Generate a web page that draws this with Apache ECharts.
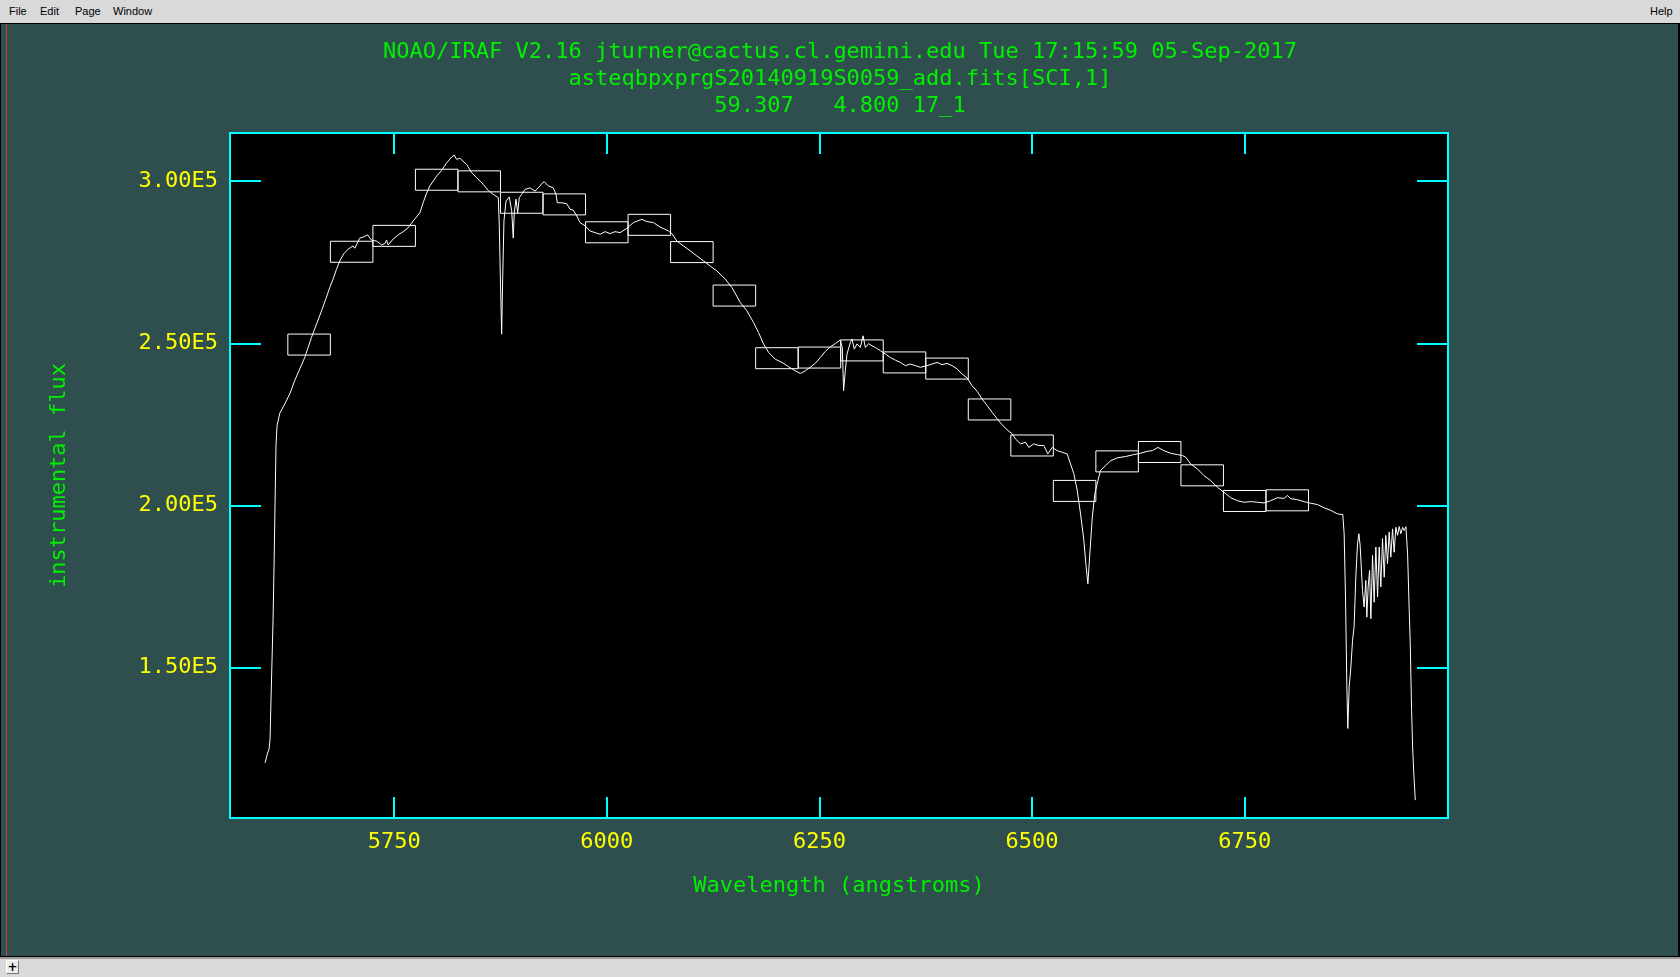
<!DOCTYPE html>
<html>
<head>
<meta charset="utf-8">
<title>IRAF standard</title>
<script src="https://cdn.jsdelivr.net/npm/echarts@6.0.0/dist/echarts.min.js"></script>
<style>
  html, body { margin: 0; padding: 0; background: #d9d9d9; overflow: hidden; }
  #main { position: absolute; left: 0; top: 0; width: 1680px; height: 977px; }
  .bar { position: absolute; left: 0; width: 1680px; background: #d9d9d9; }
  .menu { position: absolute; top: 5px; font: 11px "Liberation Sans", "DejaVu Sans", sans-serif; color: #000; }
  .line { position: absolute; }
  #plus { position: absolute; left: 6px; top: 960px; width: 11px; height: 12px; background: #ececec;
    border-right: 1px solid #777; border-bottom: 1px solid #777; border-left: 1px solid #fff; border-top: 1px solid #fff;
    font: bold 12px "DejaVu Sans", sans-serif; line-height: 12px; text-align: center; color: #000; }
</style>
</head>
<body>
<div id="main"></div>
<!-- window chrome -->
<div class="bar" style="top:0;height:23px;border-bottom:1px solid #000;"></div>
<span class="menu" style="left:9px">File</span>
<span class="menu" style="left:40px">Edit</span>
<span class="menu" style="left:75px">Page</span>
<span class="menu" style="left:113px">Window</span>
<span class="menu" style="left:1650px">Help</span>
<div class="line" style="left:0;top:24px;width:1px;height:932px;background:#000"></div>
<div class="line" style="left:6px;top:24px;width:1px;height:932px;background:#c83c3c"></div>
<div class="line" style="left:1678px;top:24px;width:2px;height:932px;background:#000"></div>
<div class="bar" style="top:956px;height:1px;background:#000"></div>
<div class="bar" style="top:957px;height:2px;background:#9a9a9a"></div>
<div class="bar" style="top:959px;height:18px"></div>
<div id="plus">+</div>

<script>
// spectrum (angstroms, instrumental flux)
var wave = [5598.2,5599.4,5600.5,5601.7,5602.9,5604.1,5605.2,5606.4,5607.6,5608.8,5610.0,5611.1,5612.3,5615.5,5621.4,5627.3,5633.1,5639.0,5644.9,5648.8,
  5652.8,5658.7,5664.6,5669.6,5674.3,5678.2,5682.2,5686.1,5690.8,5695.9,5701.7,5703.7,5709.6,5714.3,5718.7,5723.4,5729.3,5735.2,5739.1,5741.1,
  5742.9,5748.8,5754.7,5760.6,5766.5,5772.4,5780.2,5784.1,5787.3,5792.0,5799.9,5805.8,5811.7,5817.6,5820.6,5823.4,5827.3,5835.2,5841.1,5847.0,
  5854.7,5860.6,5866.5,5872.4,5873.6,5875.2,5876.4,5877.6,5879.1,5881.5,5885.3,5888.2,5890.0,5891.2,5893.2,5895.2,5897.1,5899.9,5903.8,5909.7,
  5915.6,5920.6,5923.5,5926.5,5931.2,5937.1,5940.3,5941.8,5947.0,5952.9,5956.8,5960.7,5964.7,5968.5,5974.4,5980.3,5986.2,5992.1,5998.0,6003.9,
  6009.7,6015.6,6023.5,6031.3,6041.2,6047.0,6054.8,6062.7,6068.6,6072.5,6076.5,6082.4,6090.1,6098.0,6105.9,6113.7,6121.5,6129.4,6139.2,6147.4,
  6156.8,6164.7,6172.5,6178.4,6184.3,6190.2,6198.0,6205.9,6213.7,6221.6,6227.5,6233.4,6239.2,6245.1,6251.0,6256.9,6262.8,6268.7,6274.5,6276.9,
  6278.4,6280.4,6282.4,6286.3,6288.3,6291.0,6294.2,6298.1,6301.3,6304.0,6307.8,6311.8,6315.7,6321.6,6327.5,6333.4,6339.3,6345.2,6351.0,6356.9,
  6362.8,6368.7,6376.6,6382.5,6388.3,6394.2,6400.1,6406.0,6411.9,6417.8,6423.7,6429.5,6435.4,6441.3,6447.2,6453.1,6459.0,6464.8,6470.7,6476.6,
  6480.5,6486.4,6492.3,6496.2,6502.0,6507.9,6513.8,6518.5,6523.7,6529.6,6535.5,6541.3,6545.2,6549.1,6553.1,6557.0,6560.9,6563.2,6565.6,6567.9,
  6570.8,6573.8,6577.4,6580.5,6586.4,6592.3,6600.2,6610.0,6619.7,6627.6,6635.5,6641.4,6648.0,6655.0,6662.9,6670.8,6676.7,6680.6,6686.5,6694.3,
  6702.1,6710.0,6717.9,6725.6,6733.5,6741.4,6749.2,6757.1,6765.0,6772.7,6780.6,6788.5,6796.3,6800.3,6804.1,6812.0,6819.8,6827.7,6835.6,6843.3,
  6851.2,6859.1,6865.3,6866.9,6868.5,6870.1,6871.2,6872.8,6874.8,6876.8,6878.6,6880.6,6882.6,6884.2,6885.7,6888.5,6890.4,6892.4,6893.6,6895.1,
  6896.8,6898.3,6900.3,6902.2,6904.2,6906.2,6908.1,6910.0,6912.0,6914.0,6915.9,6917.9,6919.8,6921.8,6923.8,6925.7,6927.7,6929.7,6931.6,6933.6,
  6935.6,6937.5,6939.5,6941.5,6943.4,6944.6,6946.2,6947.4,6948.6,6950.5]
var flux = [120700,121800,123100,124100,124900,128000,140000,152300,164600,181500,201500,218500,224600,228400,231300,234400,238500,242100,245600,248700,
  251800,255900,260000,263600,267200,269800,272800,275400,277600,279000,280000,279300,282400,282800,283400,281800,281500,280300,280700,281800,
  280300,282100,283400,284400,285600,287700,290200,293300,295700,298500,301500,303300,305600,307400,308000,306700,307000,305100,302600,301000,
  299000,297100,295900,294900,286200,266200,252800,270200,287700,293800,295100,290800,282400,290200,294400,290200,294900,295900,297400,297900,
  296900,298200,299200,299800,298500,297900,295900,293300,293300,293000,291300,291000,289200,287200,286200,284600,284100,283600,284400,283800,
  284400,284100,285400,287200,288200,287500,287200,285800,285100,284600,283800,281500,280000,278500,276900,275400,273800,272300,269800,267100,
  262600,260000,256400,253300,249800,247200,245100,244100,242800,241500,240700,241500,242600,243800,245600,247500,248900,249900,251000,248700,
  235400,241500,246700,250200,251300,248200,249800,248700,252300,248700,249900,249200,248700,247700,246700,245600,244800,244100,243100,243600,
  243100,242600,243100,243600,244100,243400,243800,243100,242100,240500,239300,236900,235200,232800,230800,228700,226700,224900,223300,222100,
  220500,219000,219500,217900,219000,218500,218500,215900,217900,216900,216400,215900,212800,209800,204600,197400,189200,182100,175900,185100,
  196400,203600,207700,210800,212300,213800,214700,215100,215700,216100,216700,216900,217900,216900,216100,215700,215400,214900,212800,211300,
  209200,207700,205600,204100,202400,201500,201000,201200,201000,200800,201500,202400,202200,203100,202100,201800,201200,200700,200300,199300,
  198500,197400,197200,191300,171800,144100,131300,144100,150200,158500,162600,177900,188200,191300,187700,173800,168700,176900,165600,174900,
  180000,165100,184600,170200,187200,171800,187200,174900,189800,177900,190800,182100,191800,184100,192800,185600,193300,190800,193500,191300,
  193300,192300,193500,185100,167700,157400,136900,125600,118500,109200]

// calibration bandpasses (centre, mean flux), 50 A wide
var bandWave = [5650,5700,5750,5800,5850,5900,5950,6000,6050,6100,6150,6200,6250,6300,6350,6400,6450,6500,6550,6600,6650,6700,6750,6800]
var bandFlux = [249600,278200,283100,300400,299900,293300,292800,284200,286500,278100,264700,245400,245600,247800,244100,242200,229600,218500,204500,213600,216500,209300,201400,201600]
var bandWidth = 50

// axis range and ticks
var xMin = 5557, xMax = 6989
var yMin = 103700, yMax = 314800
var xTicks = [5750, 6000, 6250, 6500, 6750]
var yTicks = [150000, 200000, 250000, 300000]

var titleLines = [
  'NOAO/IRAF V2.16 jturner@cactus.cl.gemini.edu Tue 17:15:59 05-Sep-2017',
  'asteqbpxprgS20140919S0059_add.fits[SCI,1]',
  '59.307   4.800 17_1'
]

var cyan = '#00ffff'
var green = '#00f000'
var yellow = '#ffff00'
var mono = '"DejaVu Sans Mono", "Liberation Mono", monospace'

function yLabel(v) {
  // IRAF style 3.00E5
  var e = Math.floor(Math.log10(v))
  return (v / Math.pow(10, e)).toFixed(2) + 'E' + e
}

var myChart = echarts.init(document.getElementById('main'))
var option = {
  backgroundColor: '#2f4f4f',
  animation: false,
  title: {
    text: titleLines.join('\n'),
    left: 'center',
    top: 34,
    textStyle: { color: green, fontFamily: mono, fontSize: 22, fontWeight: 'normal', lineHeight: 27 },
  },
  grid: {
    left: 230, right: 232, top: 133, bottom: 159,
    show: true,
    backgroundColor: '#000',
    borderColor: cyan,
    borderWidth: 2,
  },
  xAxis: [
    {
      type: 'value', min: xMin, max: xMax, position: 'bottom',
      name: 'Wavelength (angstroms)', nameLocation: 'middle', nameGap: 57,
      nameTextStyle: { color: green, fontFamily: mono, fontSize: 22 },
      axisLine: { show: false },
      axisTick: { inside: true, length: 21, customValues: xTicks, lineStyle: { color: cyan, width: 2 } },
      axisLabel: { customValues: xTicks, color: yellow, fontFamily: mono, fontSize: 22, margin: 13,
        formatter: function (v) { return String(v) } },
      splitLine: { show: false },
    },
    {
      type: 'value', min: xMin, max: xMax, position: 'top',
      axisLine: { show: false },
      axisTick: { inside: true, length: 21, customValues: xTicks, lineStyle: { color: cyan, width: 2 } },
      axisLabel: { show: false },
      splitLine: { show: false },
    },
  ],
  yAxis: [
    {
      type: 'value', min: yMin, max: yMax, position: 'left',
      name: 'instrumental flux', nameLocation: 'middle', nameGap: 160, nameRotate: 90,
      nameTextStyle: { color: green, fontFamily: mono, fontSize: 22 },
      axisLine: { show: false },
      axisTick: { inside: true, length: 31, customValues: yTicks, lineStyle: { color: cyan, width: 2 } },
      axisLabel: { customValues: yTicks, color: yellow, fontFamily: mono, fontSize: 22, margin: 12, formatter: yLabel },
      splitLine: { show: false },
    },
    {
      type: 'value', min: yMin, max: yMax, position: 'right',
      axisLine: { show: false },
      axisTick: { inside: true, length: 31, customValues: yTicks, lineStyle: { color: cyan, width: 2 } },
      axisLabel: { show: false },
      splitLine: { show: false },
    },
  ],
  series: [
    {
      type: 'line',
      xAxisIndex: 0, yAxisIndex: 0,
      data: wave.map(function (w, i) { return [w, flux[i]] }),
      showSymbol: false,
      lineStyle: { color: '#fff', width: 1 },
      silent: true,
    },
    {
      type: 'custom',
      xAxisIndex: 0, yAxisIndex: 0,
      data: bandWave.map(function (w, i) { return [w, bandFlux[i]] }),
      renderItem: function (params, api) {
        var c = api.coord([api.value(0), api.value(1)])
        var w = api.size([bandWidth, 0])[0]
        var h = 21
        return {
          type: 'rect',
          shape: { x: c[0] - w / 2, y: c[1] - h / 2, width: w, height: h },
          style: { fill: 'none', stroke: '#fff', lineWidth: 1 },
        }
      },
      silent: true,
    },
  ],
}
myChart.setOption(option)
</script>
</body>
</html>
